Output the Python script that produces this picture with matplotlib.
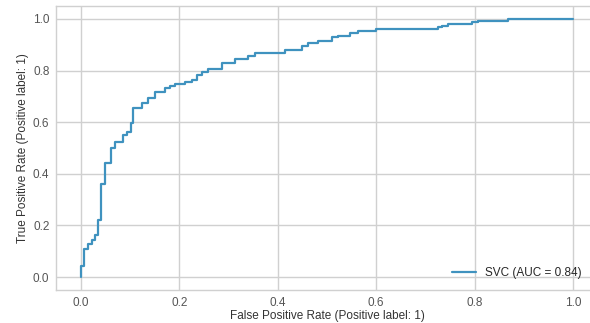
import matplotlib
matplotlib.use("Agg")
import matplotlib.pyplot as plt

# ROC curve corners (SVC)
fpr = [0.0, 0.0, 0.0067, 0.0067, 0.0148, 0.0148, 0.0217, 0.0217, 0.0285, 0.0285,
       0.034, 0.034, 0.0407, 0.0407, 0.0488, 0.0488, 0.061, 0.061, 0.0691, 0.0691,
       0.086, 0.086, 0.0929, 0.0929, 0.1016, 0.1016, 0.1063, 0.1063, 0.1234, 0.1234,
       0.1368, 0.1368, 0.1504, 0.1504, 0.1707, 0.1707, 0.1809, 0.1809, 0.191, 0.191,
       0.2114, 0.2114, 0.225, 0.225, 0.2352, 0.2352, 0.2453, 0.2453, 0.2587, 0.2587,
       0.286, 0.286, 0.313, 0.313, 0.340, 0.340, 0.3537, 0.3537, 0.4146, 0.4146,
       0.4486, 0.4486, 0.4614, 0.4614, 0.4823, 0.4823, 0.5096, 0.5096, 0.523, 0.523,
       0.5467, 0.5467, 0.563, 0.563, 0.5996, 0.5996, 0.7262, 0.7262, 0.7337, 0.7337,
       0.7465, 0.7465, 0.7941, 0.7941, 0.8075, 0.8075, 0.8685, 0.8685, 1.0]
tpr = [0.0, 0.043, 0.043, 0.107, 0.107, 0.127, 0.127, 0.143, 0.143, 0.162,
       0.162, 0.221, 0.221, 0.359, 0.359, 0.443, 0.443, 0.499, 0.499, 0.524,
       0.524, 0.550, 0.550, 0.563, 0.563, 0.598, 0.598, 0.654, 0.654, 0.673,
       0.673, 0.693, 0.693, 0.718, 0.718, 0.731, 0.731, 0.741, 0.741, 0.748,
       0.748, 0.757, 0.757, 0.764, 0.764, 0.783, 0.783, 0.796, 0.796, 0.805,
       0.805, 0.828, 0.828, 0.844, 0.844, 0.857, 0.857, 0.869, 0.869, 0.879,
       0.879, 0.894, 0.894, 0.907, 0.907, 0.916, 0.916, 0.928, 0.928, 0.935,
       0.935, 0.945, 0.945, 0.953, 0.953, 0.960, 0.960, 0.970, 0.970, 0.974,
       0.974, 0.979, 0.979, 0.986, 0.986, 0.992, 0.992, 1.0, 1.0]
auc_label = "SVC (AUC = 0.84)"
ticks = [0.0, 0.2, 0.4, 0.6, 0.8, 1.0]

plt.style.use("seaborn-v0_8-whitegrid")
plt.rcParams["font.family"] = ["Liberation Sans", "DejaVu Sans"]

fig = plt.figure(figsize=(5.9, 3.23), dpi=100)
# axes run past the right edge, like the cropped original
ax = fig.add_axes([0.0956, 0.1022, 0.9173, 0.8793])

ax.plot(fpr, tpr, color="#3f92bf", linewidth=1.6, label=auc_label)
ax.set_xlim(-0.05, 1.05)
ax.set_ylim(-0.05, 1.05)
ax.set_xticks(ticks)
ax.set_yticks(ticks)
ax.tick_params(labelsize=8.5, colors="#555555", pad=5)
ax.set_xlabel("False Positive Rate (Positive label: 1)", fontsize=8.5, color="#333333", labelpad=1)
ax.set_ylabel("True Positive Rate (Positive label: 1)", fontsize=8.5, color="#333333", labelpad=3)
ax.grid(color="#d0d0d0", linewidth=1)
for s in ax.spines.values():
    s.set_color("#d0d0d0")
ax.legend(loc="lower right", fontsize=8.5, frameon=False, bbox_to_anchor=(0.99, 0.0))

fig.savefig("out.png", dpi=100)
